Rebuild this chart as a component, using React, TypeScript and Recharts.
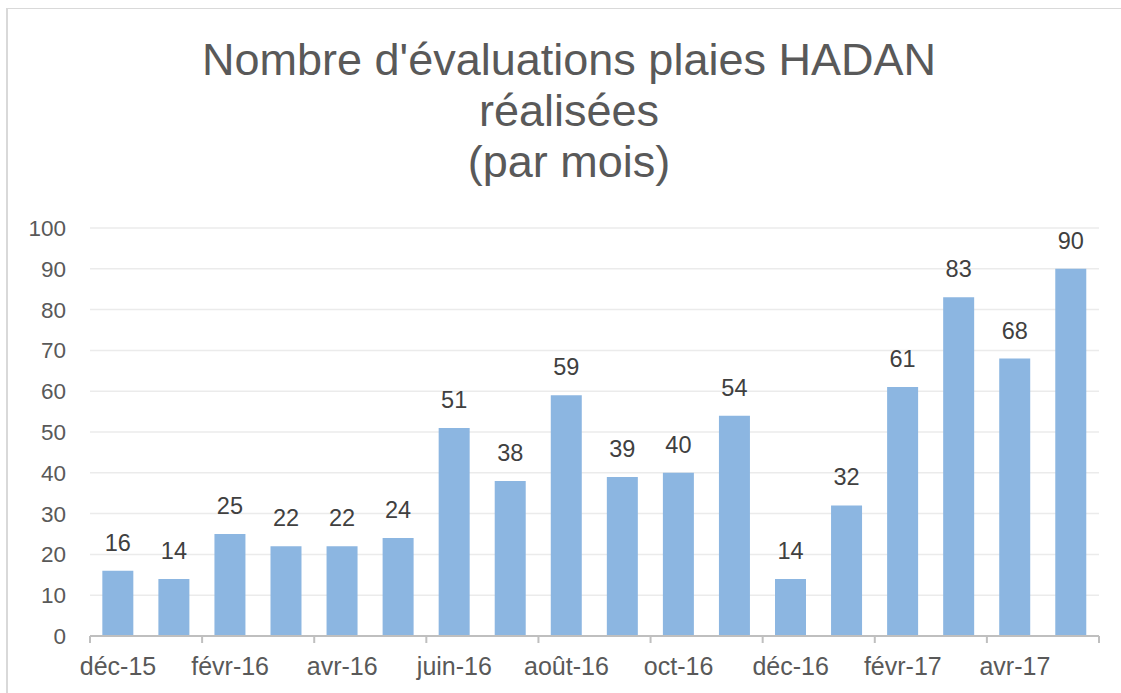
import { Bar, BarChart, CartesianGrid, LabelList, XAxis, YAxis } from 'recharts'

const months = [
  'déc-15', 'janv-16', 'févr-16', 'mars-16', 'avr-16', 'mai-16',
  'juin-16', 'juil-16', 'août-16', 'sept-16', 'oct-16', 'nov-16',
  'déc-16', 'janv-17', 'févr-17', 'mars-17', 'avr-17', 'mai-17',
]
const evaluations = [16, 14, 25, 22, 22, 24, 51, 38, 59, 39, 40, 54, 14, 32, 61, 83, 68, 90]
const yTicks = [0, 10, 20, 30, 40, 50, 60, 70, 80, 90, 100]
const titleLines = ["Nombre d'évaluations plaies HADAN", 'réalisées', '(par mois)']

const data = months.map((month, i) => ({ month, value: evaluations[i] }))

const FONT = '"Liberation Sans", Arial, sans-serif'
const TICK_SIZE = 7
const TICK_MARGIN = 16

// Excel-style axis: label under every other bar, tick marks on the category boundaries.
function MonthTick(props: any) {
  const { x, y, payload, index } = props
  const half = payload.offset || 0
  const axisY = y - TICK_SIZE - TICK_MARGIN
  const isLast = index === months.length - 1
  return (
    <g>
      {index % 2 === 0 && (
        <line x1={x - half} x2={x - half} y1={axisY} y2={axisY + TICK_SIZE} stroke="#bfbfbf" strokeWidth={2} />
      )}
      {isLast && (
        <line x1={x + half} x2={x + half} y1={axisY} y2={axisY + TICK_SIZE} stroke="#bfbfbf" strokeWidth={2} />
      )}
      {index % 2 === 0 && (
        <text x={x} y={y} dy={15.6} textAnchor="middle" fill="#595959" fontSize={25} fontFamily={FONT}>
          {payload.value}
        </text>
      )}
    </g>
  )
}

export default function App() {
  return (
    <div
      style={{
        position: 'absolute',
        left: 0,
        top: 0,
        width: 1121,
        height: 693,
        overflow: 'hidden',
        background: '#fff',
        fontFamily: FONT,
      }}
    >
      <div
        style={{
          position: 'absolute',
          left: 6,
          top: 8,
          width: 1115,
          height: 685,
          borderLeft: '2px solid #d9d9d9',
          borderTop: '1px solid #d9d9d9',
          boxSizing: 'border-box',
        }}
      />
      <div
        style={{
          position: 'absolute',
          left: 0,
          top: 33.5,
          width: 1138,
          textAlign: 'center',
          fontSize: 45,
          lineHeight: '51px',
          color: '#595959',
        }}
      >
        {titleLines.map((line) => (
          <div key={line}>{line}</div>
        ))}
      </div>
      <div style={{ position: 'absolute', left: 0, top: 0 }}>
        <BarChart
          width={1121}
          height={693}
          data={data}
          margin={{ top: 228, right: 22, bottom: 27, left: 0 }}
          barCategoryGap="22%"
        >
          <CartesianGrid vertical={false} stroke="#ebebeb" strokeWidth={1.5} />
          <XAxis
            dataKey="month"
            interval={0}
            height={30}
            axisLine={{ stroke: '#bfbfbf', strokeWidth: 2 }}
            tickLine={false}
            tickSize={TICK_SIZE}
            tickMargin={TICK_MARGIN}
            tick={<MonthTick />}
          />
          <YAxis
            width={90}
            domain={[0, 100]}
            ticks={yTicks}
            axisLine={false}
            tickLine={false}
            tickSize={6}
            tickMargin={18}
            tick={{ fill: '#595959', fontSize: 22.5, fontFamily: FONT }}
          />
          <Bar dataKey="value" fill="#8cb6e1" isAnimationActive={false}>
            <LabelList
              dataKey="value"
              position="top"
              offset={20}
              fill="#404040"
              fontSize={23.5}
              fontFamily={FONT}
            />
          </Bar>
        </BarChart>
      </div>
    </div>
  )
}
